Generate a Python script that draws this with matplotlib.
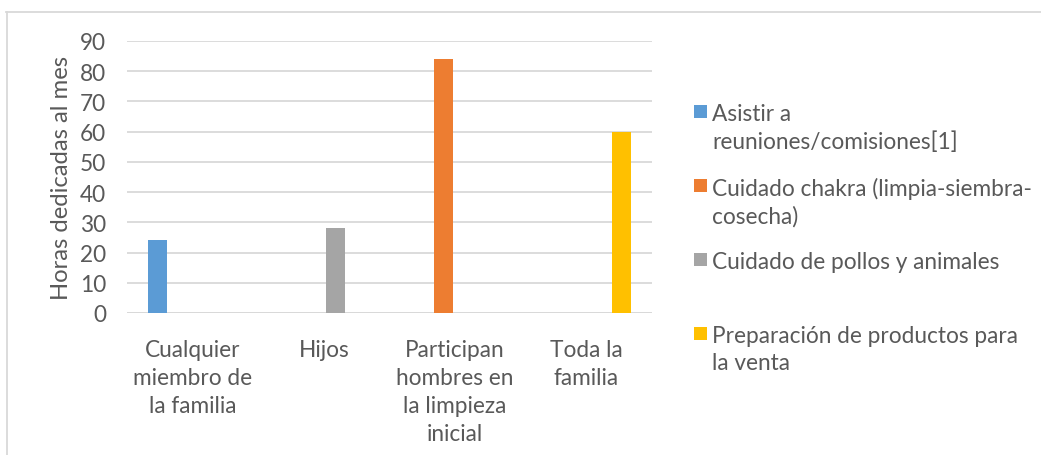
import matplotlib
matplotlib.use("Agg")
import matplotlib.pyplot as plt
import numpy as np
from matplotlib.lines import Line2D
from matplotlib.patches import Rectangle

categories = ["Cualquier\nmiembro de\nla familia", "Hijos",
              "Participan\nhombres en\nla limpieza\ninicial", "Toda la\nfamilia"]
series_names = ["Asistir a\nreuniones/comisiones[1]",
                "Cuidado chakra (limpia-siembra-\ncosecha)",
                "Cuidado de pollos y animales",
                "Preparación de productos para\nla venta"]
series_values = [
    [24, 0, 0, 0],
    [0, 0, 84, 0],
    [0, 28, 0, 0],
    [0, 0, 0, 60],
]
colors = ["#5B9BD5", "#ED7D31", "#A5A5A5", "#FFC000"]
yticks = [0, 10, 20, 30, 40, 50, 60, 70, 80, 90]

plt.rcParams['font.family'] = ['Lato', 'DejaVu Sans']
txt = "#595959"
FS = 16.3
W, H = 1041, 456
fig = plt.figure(figsize=(W / 100, H / 100), dpi=100)
ax = fig.add_axes([127 / W, (H - 314) / H, 525 / W, (314 - 42) / H])

x = np.arange(len(categories))
step = 0.18
bw = 0.145
for i, (vals, c) in enumerate(zip(series_values, colors)):
    ax.bar(x + (i - 1.5) * step, vals, width=bw, color=c, zorder=3)

ax.set_xlim(-0.5, len(categories) - 0.5)
ax.set_ylim(0, 90)
ax.set_yticks(yticks)
ax.set_yticklabels([str(v) for v in yticks], fontsize=FS, color=txt)
ax.set_xticks(x)
ax.set_xticklabels(categories, fontsize=FS, color=txt, linespacing=1.4, va='top')
ax.tick_params(axis='both', length=0)
ax.tick_params(axis='y', pad=15)
ax.tick_params(axis='x', pad=19)
ax.grid(axis='y', color="#D9D9D9", linewidth=1.3, zorder=0)
for s in ax.spines.values():
    s.set_visible(False)
ax.axhline(0, color="#D9D9D9", linewidth=1.3, zorder=1)
ax.set_ylabel("Horas dedicadas al mes", fontsize=17.2, color=txt, labelpad=6)

# legend (manual layout)
marker_tops = [106, 180, 254, 328]
for name, c, yy in zip(series_names, colors, marker_tops):
    fig.patches.append(Rectangle((694 / W, 1 - (yy + 13) / H), 13 / W, 13 / H,
                                 transform=fig.transFigure, facecolor=c, edgecolor='none'))
    fig.text(712 / W, 1 - (yy - 2) / H, name, fontsize=FS, color=txt,
             va='top', ha='left', linespacing=1.36)

# outer frame
fig.add_artist(Line2D([6 / W, 1], [1 - 12.5 / H, 1 - 12.5 / H], transform=fig.transFigure,
                      color="#D9D9D9", linewidth=1.3))
fig.add_artist(Line2D([6.5 / W, 6.5 / W], [0, 1 - 12.5 / H], transform=fig.transFigure,
                      color="#D9D9D9", linewidth=1.3))

fig.savefig("out.png", dpi=100)
